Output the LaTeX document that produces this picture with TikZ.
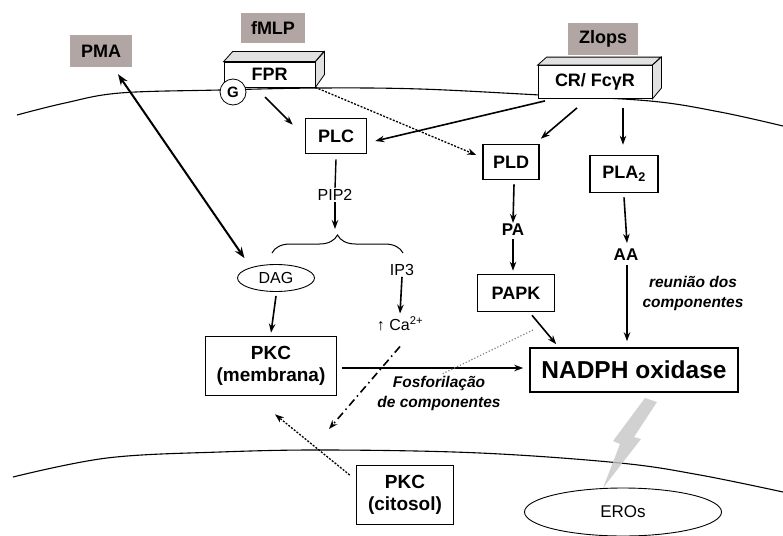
\documentclass[tikz,border=0pt]{standalone}
\usepackage{fontspec}
\setmainfont{Liberation Sans}
\usetikzlibrary{arrows.meta,shapes.geometric,decorations.pathreplacing}
\definecolor{stimgray}{RGB}{178,166,164}
\definecolor{facegray}{RGB}{225,225,225}
\begin{document}
\begin{tikzpicture}[x=1pt,y=-1pt,
  arr/.style={-{Stealth[length=9pt,width=6.5pt]}, line width=1.6pt},
  pbox/.style={draw, line width=1.6pt, fill=white, inner sep=0pt, font=\bfseries\fontsize{18}{21}\selectfont},
  gbox/.style={fill=stimgray, inner sep=0pt, font=\bfseries\fontsize{18}{20}\selectfont},
  rbox/.style={draw, line width=0.8pt, fill=white, inner sep=0pt, font=\bfseries\fontsize{18}{20}\selectfont},
  face/.style={draw, line width=0.8pt, fill=facegray},
  plain/.style={inner sep=1pt, font=\fontsize{16}{18}\selectfont},
  bold/.style={inner sep=1pt, font=\bfseries\fontsize{17}{19}\selectfont},
  ital/.style={inner sep=0pt, align=center, font=\bfseries\itshape\fontsize{15.5}{20}\selectfont},
  membrane/.style={line width=1.1pt}
]
\useasboundingbox (0,0) rectangle (783,535);

% membranes
\draw[membrane] plot[smooth, tension=0.6] coordinates {(17,115) (65,103) (120,93) (220,90) (320,88) (420,89) (540,95) (650,101) (720,112) (783,126)};
\draw[membrane] plot[smooth, tension=0.6] coordinates {(13,477) (107,458) (220,452) (330,450) (480,453) (620,463) (700,475) (783,492)};

% stimuli
\node[gbox, minimum width=62pt, minimum height=32pt] (pma) at (101,51) {PMA};
\node[gbox, minimum width=64pt, minimum height=30pt] (fmlp) at (273,28) {fMLP};
\node[gbox, minimum width=70pt, minimum height=31pt] (zlops) at (603,39) {Zlops};

% FPR 3D box
\node[rbox, minimum width=91pt, minimum height=25pt] (fpr) at (269.5,74.5) {FPR};
\draw[face] (fpr.north west) -- ++(9,-10) -- ++(91,0) -- (fpr.north east) -- cycle;
\draw[face] (fpr.north east) -- ++(9,-10) -- ++(0,23) -- (fpr.south east) -- cycle;
\node[circle, draw, line width=0.8pt, fill=white, minimum size=26pt, inner sep=0pt, font=\bfseries\fontsize{15}{16}\selectfont] (g) at (233,92) {G};

% CR 3D box
\node[rbox, minimum width=114pt, minimum height=33pt] (cr) at (595,82) {CR/ FcγR};
\draw[face] (cr.north west) -- ++(9,-8) -- ++(114,0) -- (cr.north east) -- cycle;
\draw[face] (cr.north east) -- ++(9,-8) -- ++(0,31) -- (cr.south east) -- cycle;

% enzymes
\node[pbox, minimum width=61pt, minimum height=35pt] (plc) at (336,136) {PLC};
\node[pbox, minimum width=56pt, minimum height=35pt] (pld) at (511,162) {PLD};
\node[pbox, minimum width=68pt, minimum height=37pt] (pla) at (624,174) {PLA\textsubscript{2}};
\node[pbox, minimum width=77pt, minimum height=37pt] (papk) at (516,293) {PAPK};
\node[pbox, minimum width=208pt, minimum height=44pt, font=\bfseries\fontsize{24.5}{26}\selectfont] (nadph) at (634,370) {NADPH oxidase};
\node[pbox, minimum width=131pt, minimum height=59pt, align=center, font=\bfseries\fontsize{19}{22}\selectfont] (pkcm) at (271,366) {PKC\\(membrana)};
\node[pbox, minimum width=97pt, minimum height=59pt, align=center, font=\bfseries\fontsize{19}{22}\selectfont] (pkcc) at (405,495) {PKC\\(citosol)};

% ellipses
\node[ellipse, draw, line width=0.9pt, minimum width=77pt, minimum height=27pt, inner sep=0pt, font=\fontsize{16}{18}\selectfont] (dag) at (276,278) {DAG};
\node[ellipse, draw, line width=0.9pt, minimum width=197pt, minimum height=48pt, inner sep=0pt, font=\fontsize{17}{19}\selectfont] (eros) at (623,512) {EROs};

% small labels
\node[plain] (pip2) at (335,195) {PIP2};
\node[plain] (ip3) at (402,270) {IP3};
\node[plain] (ca) at (400,324) {↑ Ca\textsuperscript{2+}};
\node[bold] (pa) at (513,230) {PA};
\node[bold] (aa) at (626,255) {AA};
\node[ital] (reun) at (693,293) {reunião dos\\componentes};
\node[ital] (fosf) at (439,393) {Fosforilação\\de componentes};

% lightning
\fill[gray!45, opacity=0.8] (645,398) -- (657,402) -- (634,437) -- (641,439) -- (603,488) -- (620,444) -- (613,441) -- cycle;

% connectors
\draw[arr] ([shift={(32,5)}]g.center) -- ([shift={(-12,7)}]plc.north west);
\draw[arr] ([shift={(-50,2)}]cr.south) -- ([shift={(8,5)}]plc.east);
\draw[arr] ([shift={(-18,9)}]cr.south) -- ([shift={(1,-5)}]pld.north east);
\draw[arr] ([shift={(28,9)}]cr.south) -- ([shift={(-1,-10)}]pla.north);
\draw[arr, line width=1.3pt, dash pattern=on 2pt off 1.5pt] (fpr.south east) -- ([shift={(-6,-7)}]pld.west);
\draw[line width=1.4pt] ([shift={(0,5)}]plc.south) -- (pip2.north);
\coordinate (btip) at (335,229);
\draw[arr] (pip2.south) -- (btip);
\draw[decorate, decoration={brace, amplitude=18pt}, line width=1pt] (272,253) -- (403,253);
\draw[arr] (ip3.south) -- ([shift={(0,-2)}]ca.north);
\draw[arr] ([shift={(0,4)}]dag.south) -- ([shift={(0,-3)}]pkcm.north);
\draw[{Stealth[length=11pt,width=8pt]}-{Stealth[length=11pt,width=8pt]}, line width=2pt] ([shift={(17,7)}]pma.south) -- ([shift={(-4,-10)}]dag.north west);
\draw[arr] ([shift={(3,4)}]pld.south) -- (pa.north);
\draw[arr] ([shift={(0,2)}]pa.south) -- ([shift={(-3,-3)}]papk.north);
\draw[arr] ([shift={(0,4)}]pla.south) -- ([shift={(1,-5)}]aa.north);
\draw[arr] ([shift={(1,3)}]aa.south) -- ([shift={(-7,-6)}]nadph.north);
\draw[arr] ([shift={(16,3)}]papk.south) -- ([shift={(27,-3)}]nadph.north west);
\draw[arr] ([shift={(5,2)}]pkcm.east) -- ([shift={(-6,-2)}]nadph.west);
\coordinate (dot1) at (533,330);
\coordinate (dot2) at (442,374);
\draw[gray, dotted, line width=1.2pt] (dot1) -- (dot2);
\coordinate (cad) at (329,429);
\draw[arr, dash pattern=on 8pt off 4pt on 1.5pt off 4pt] ([shift={(0,14)}]ca.south) -- (cad);
\draw[arr, line width=1.3pt, dash pattern=on 2pt off 1.5pt] ([shift={(-6,-20)}]pkcc.west) -- ([shift={(4,18)}]pkcm.south);
\end{tikzpicture}
\end{document}
